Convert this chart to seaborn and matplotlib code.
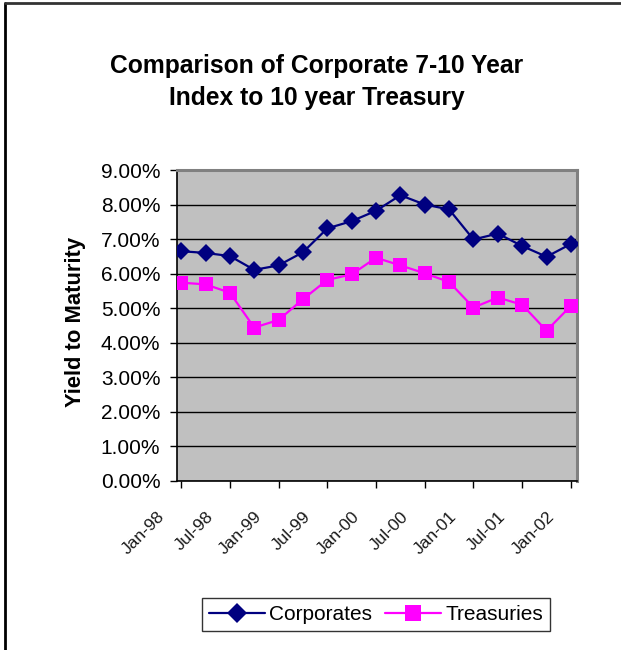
import matplotlib
matplotlib.use("Agg")
import matplotlib.pyplot as plt
import matplotlib.transforms as mtransforms
from matplotlib.lines import Line2D
import numpy as np
import pandas as pd
import seaborn as sns

# ---- data (quarterly, Jan-98 .. Jan-02) ----
quarters = ["Jan-98", "Apr-98", "Jul-98", "Oct-98", "Jan-99", "Apr-99", "Jul-99", "Oct-99",
            "Jan-00", "Apr-00", "Jul-00", "Oct-00", "Jan-01", "Apr-01", "Jul-01", "Oct-01", "Jan-02"]
corporates = [6.65, 6.60, 6.51, 6.11, 6.24, 6.62, 7.31, 7.52, 7.82, 8.27, 8.00, 7.86,
              6.99, 7.16, 6.80, 6.49, 6.86]
treasuries = [5.74, 5.69, 5.45, 4.44, 4.66, 5.26, 5.82, 5.98, 6.46, 6.24, 6.01, 5.76,
              5.02, 5.31, 5.10, 4.35, 5.07]
tick_labels = ["Jan-98", "Jul-98", "Jan-99", "Jul-99", "Jan-00", "Jul-00", "Jan-01", "Jul-01", "Jan-02"]
y_ticks = [0, 1, 2, 3, 4, 5, 6, 7, 8, 9]
series_names = ["Corporates", "Treasuries"]

sns.set_style("white")
plt.rcParams["font.family"] = ["Liberation Sans", "DejaVu Sans"]
plt.rcParams["text.color"] = "black"
plt.rcParams["xtick.color"] = "black"
plt.rcParams["ytick.color"] = "black"
plt.rcParams["axes.labelcolor"] = "black"

df = pd.DataFrame({
    "idx": list(range(len(quarters))) * 2,
    "value": corporates + treasuries,
    "series": [series_names[0]] * len(quarters) + [series_names[1]] * len(quarters),
})

W, H = 621, 650
fig = plt.figure(figsize=(W / 100, H / 100), dpi=100)
ax = fig.add_axes([177 / W, 1 - 481 / H, 400 / W, 311 / H])
ax.set_facecolor("#C0C0C0")

colors = {"Corporates": "#000080", "Treasuries": "#FF00FF"}
markers = {"Corporates": "D", "Treasuries": "s"}
sizes = {"Corporates": 9.5, "Treasuries": 10.5}
for name in series_names:
    sub = df[df["series"] == name]
    sns.lineplot(data=sub, x="idx", y="value", ax=ax, color=colors[name],
                 marker=markers[name], markersize=sizes[name], markeredgewidth=0,
                 linewidth=1.6, legend=False, zorder=3)

ax.set_xlim(-0.17, 16.25)
ax.set_ylim(0, 9)
ax.set_yticks(y_ticks)
ax.set_yticklabels([f"{v:.2f}%" for v in y_ticks], fontsize=15, color="black")
ax.yaxis.grid(True, color="black", linewidth=1.0)
ax.xaxis.grid(False)
ax.set_axisbelow(True)
ax.set_xlabel("")
ax.set_ylabel("")

ax.set_xticks(list(range(0, len(quarters), 2)))
ax.set_xticklabels(tick_labels, fontsize=12.5, color="#1a1a1a", rotation=45,
                   ha="right", va="center", rotation_mode="anchor")
ax.tick_params(axis="x", direction="out", length=5, width=1, color="black", pad=0, bottom=True)
ax.tick_params(axis="y", direction="out", length=5, width=1, color="black", pad=7, left=True)
off = mtransforms.ScaledTranslation(-19 / 100, -26 / 100, fig.dpi_scale_trans)
for lab in ax.get_xticklabels():
    lab.set_transform(lab.get_transform() + off)

for s in ["left", "bottom"]:
    ax.spines[s].set_color("black")
    ax.spines[s].set_linewidth(1.2)
for s in ["top", "right"]:
    ax.spines[s].set_color("#808080")
    ax.spines[s].set_linewidth(2.2)

# titles
fig.text(317 / W, 1 - 66 / H, "Comparison of Corporate 7-10 Year", ha="center", va="center",
         fontsize=17.7, fontweight="bold", color="black")
fig.text(317 / W, 1 - 98 / H, "Index to 10 year Treasury", ha="center", va="center",
         fontsize=17.7, fontweight="bold", color="black")
fig.text(76 / W, 1 - 322 / H, "Yield to Maturity", ha="center", va="center",
         rotation=90, fontsize=15.8, fontweight="bold", color="black")

# legend
handles = [Line2D([0], [0], color=colors[n], marker=markers[n], markersize=sizes[n] + 1,
                  markeredgewidth=0, linewidth=1.6) for n in series_names]
leg = fig.legend(handles, series_names, loc="center", bbox_to_anchor=(376 / W, 1 - 614.5 / H),
                 ncol=2, fontsize=15, frameon=True, fancybox=False, edgecolor="black",
                 handlelength=2.7, columnspacing=0.6, handletextpad=0.2, borderpad=0.35,
                 borderaxespad=0)
leg.get_frame().set_linewidth(1.0)
for t in leg.get_texts():
    t.set_color("black")

# outer chart border (top and left visible)
fig.add_artist(Line2D([5 / W, 5 / W], [0, 1 - 3 / H], color="black", linewidth=2,
                      transform=fig.transFigure))
fig.add_artist(Line2D([5 / W, 1], [1 - 3 / H, 1 - 3 / H], color="#333333", linewidth=2,
                      transform=fig.transFigure))

fig.savefig("out.png", dpi=100)
